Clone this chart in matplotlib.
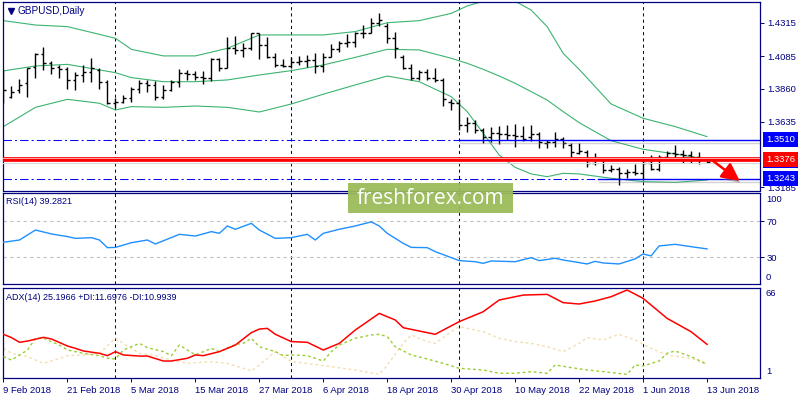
import matplotlib
matplotlib.use('Agg')
import matplotlib.pyplot as plt
import matplotlib.patheffects as pe
from matplotlib.patches import Rectangle
from matplotlib.lines import Line2D
import matplotlib.transforms as mtransforms

plt.rcParams['font.family'] = ['Liberation Sans', 'DejaVu Sans']

# ---------------- data ----------------
symbol_title = "GBPUSD,Daily"
rsi_title = "RSI(14) 39.2821"
adx_title = "ADX(14) 25.1966 +DI:11.6976 -DI:10.9939"
watermark = "freshforex.com"

date_labels = ["9 Feb 2018", "21 Feb 2018", "5 Mar 2018", "15 Mar 2018", "27 Mar 2018",
               "6 Apr 2018", "18 Apr 2018", "30 Apr 2018", "10 May 2018", "22 May 2018",
               "1 Jun 2018", "13 Jun 2018"]
date_label_bars = [0, 8, 16, 24, 32, 40, 48, 56, 64, 72, 80, 88]
month_start_bars = [14, 36, 57, 80]

opens = [1.3807, 1.3807, 1.3853, 1.3899, 1.4013, 1.4100, 1.4036, 1.4013, 1.3997, 1.3922,
         1.3956, 1.3979, 1.3991, 1.3910, 1.3762, 1.3773, 1.3796, 1.3858, 1.3899, 1.3888,
         1.3807, 1.3853, 1.3910, 1.3972, 1.3963, 1.3945, 1.3933, 1.4064, 1.4002, 1.4139,
         1.4128, 1.4139, 1.4242, 1.4162, 1.4082, 1.4025, 1.4018, 1.4048, 1.4055, 1.4059,
         1.4018, 1.4082, 1.4132, 1.4174, 1.4185, 1.4242, 1.4242, 1.4315, 1.4293, 1.4208,
         1.4077, 1.4002, 1.3933, 1.3979, 1.3933, 1.3922, 1.3773, 1.3762, 1.3613, 1.3624,
         1.3579, 1.3533, 1.3556, 1.3551, 1.3544, 1.3537, 1.3533, 1.3551, 1.3487, 1.3499,
         1.3515, 1.3476, 1.3423, 1.3430, 1.3350, 1.3377, 1.3304, 1.3309, 1.3281, 1.3293,
         1.3286, 1.3350, 1.3309, 1.3396, 1.3418, 1.3414, 1.3407, 1.3396, 1.3377]
highs = [1.3991, 1.3881, 1.3926, 1.4002, 1.4109, 1.4146, 1.4052, 1.4025, 1.4013, 1.3979,
         1.4025, 1.4071, 1.4002, 1.3922, 1.3796, 1.3819, 1.3876, 1.3922, 1.3922, 1.3917,
         1.3888, 1.3922, 1.3995, 1.3991, 1.3986, 1.3986, 1.4071, 1.4071, 1.4219, 1.4224,
         1.4178, 1.4247, 1.4247, 1.4219, 1.4105, 1.4064, 1.4077, 1.4087, 1.4093, 1.4109,
         1.4109, 1.4169, 1.4192, 1.4238, 1.4254, 1.4299, 1.4345, 1.4379, 1.4315, 1.4249,
         1.4093, 1.4032, 1.3991, 1.3995, 1.4002, 1.3933, 1.3789, 1.3789, 1.3670, 1.3647,
         1.3590, 1.3602, 1.3606, 1.3613, 1.3620, 1.3606, 1.3613, 1.3567, 1.3510, 1.3567,
         1.3533, 1.3487, 1.3492, 1.3441, 1.3418, 1.3377, 1.3338, 1.3327, 1.3309, 1.3345,
         1.3396, 1.3407, 1.3407, 1.3437, 1.3476, 1.3441, 1.3437, 1.3430, 1.3377]
lows = [1.3762, 1.3796, 1.3830, 1.3803, 1.3933, 1.3991, 1.3963, 1.3933, 1.3858, 1.3853,
        1.3910, 1.3910, 1.3858, 1.3757, 1.3727, 1.3762, 1.3773, 1.3830, 1.3842, 1.3784,
        1.3789, 1.3849, 1.3872, 1.3922, 1.3922, 1.3894, 1.3917, 1.3986, 1.4002, 1.4100,
        1.4082, 1.4128, 1.4064, 1.4071, 1.4009, 1.4009, 1.4002, 1.4025, 1.4013, 1.3968,
        1.3979, 1.4082, 1.4116, 1.4151, 1.4151, 1.4208, 1.4242, 1.4293, 1.4174, 1.4071,
        1.3995, 1.3922, 1.3922, 1.3922, 1.3910, 1.3743, 1.3716, 1.3579, 1.3567, 1.3560,
        1.3492, 1.3499, 1.3483, 1.3510, 1.3460, 1.3505, 1.3505, 1.3453, 1.3453, 1.3464,
        1.3453, 1.3396, 1.3414, 1.3327, 1.3338, 1.3281, 1.3293, 1.3201, 1.3247, 1.3270,
        1.3235, 1.3304, 1.3300, 1.3377, 1.3377, 1.3350, 1.3350, 1.3345, 1.3350]
closes = [1.3853, 1.3842, 1.3888, 1.4002, 1.4100, 1.4036, 1.4002, 1.3995, 1.3922, 1.3956,
          1.3979, 1.4002, 1.3910, 1.3762, 1.3773, 1.3796, 1.3858, 1.3899, 1.3888, 1.3807,
          1.3853, 1.3910, 1.3972, 1.3963, 1.3945, 1.3933, 1.4064, 1.4002, 1.4139, 1.4128,
          1.4139, 1.4242, 1.4162, 1.4082, 1.4025, 1.4018, 1.4048, 1.4055, 1.4059, 1.4018,
          1.4082, 1.4132, 1.4174, 1.4185, 1.4242, 1.4242, 1.4315, 1.4334, 1.4208, 1.4139,
          1.4002, 1.3933, 1.3979, 1.3933, 1.3922, 1.3789, 1.3762, 1.3613, 1.3624, 1.3579,
          1.3533, 1.3556, 1.3551, 1.3544, 1.3537, 1.3515, 1.3551, 1.3499, 1.3499, 1.3515,
          1.3487, 1.3430, 1.3437, 1.3350, 1.3377, 1.3304, 1.3309, 1.3281, 1.3293, 1.3286,
          1.3350, 1.3309, 1.3396, 1.3418, 1.3414, 1.3407, 1.3396, 1.3377, 1.3359]

bb_bars = [0, 4, 8, 12, 14, 16, 20, 24, 28, 32, 36, 40, 44, 48, 52, 56, 58, 60, 62, 64,
           66, 68, 70, 72, 76, 80, 84, 88]
bb_upper = [1.4329, 1.4299, 1.4288, 1.4235, 1.4208, 1.4132, 1.4087, 1.4087, 1.4139, 1.4231,
            1.4231, 1.4231, 1.4254, 1.4315, 1.4329, 1.4379, 1.4430, 1.4462, 1.4468, 1.4462,
            1.4402, 1.4288, 1.4105, 1.3995, 1.3757, 1.3659, 1.3602, 1.3533]
bb_middle = [1.3984, 1.4018, 1.4029, 1.3991, 1.3972, 1.3938, 1.3910, 1.3910, 1.3922, 1.3956,
             1.3986, 1.4025, 1.4077, 1.4132, 1.4128, 1.4071, 1.4036, 1.3995, 1.3949, 1.3899,
             1.3842, 1.3784, 1.3705, 1.3629, 1.3505, 1.3446, 1.3414, 1.3377]
bb_lower = [1.3602, 1.3734, 1.3789, 1.3762, 1.3716, 1.3739, 1.3734, 1.3743, 1.3734, 1.3702,
            1.3757, 1.3824, 1.3888, 1.3949, 1.3910, 1.3807, 1.3705, 1.3556, 1.3407, 1.3322,
            1.3277, 1.3258, 1.3281, 1.3277, 1.3247, 1.3224, 1.3219, 1.3235]

rsi_bars = [0, 2, 4, 6, 8, 9, 11, 12, 13, 14, 16, 18, 19, 22, 24, 26, 27, 28, 29, 31, 32, 34,
            36, 38, 39, 40, 42, 44, 46, 47, 48, 50, 51, 53, 54, 57, 59, 60, 61, 64, 66, 67,
            69, 70, 73, 74, 75, 77, 79, 80, 81, 82, 84, 86, 88]
rsi_values = [46.7, 49.2, 60.3, 55.9, 53.0, 51.0, 51.8, 49.2, 40.7, 41.0, 46.2, 49.2, 44.8,
              55.5, 53.6, 58.5, 56.6, 64.8, 61.1, 67.7, 60.3, 51.0, 51.8, 55.5, 49.2, 56.6,
              61.1, 64.8, 69.3, 64.8, 56.6, 45.5, 41.0, 40.7, 36.3, 26.3, 25.1, 23.3, 25.9,
              25.1, 29.6, 26.3, 28.9, 27.0, 22.6, 25.5, 23.7, 22.6, 28.2, 33.7, 31.5, 42.6,
              44.4, 41.8, 39.3]
rsi_levels = [70, 30]

adx_bars = [0, 1, 2, 3, 5, 6, 8, 9, 10, 12, 13, 14, 15, 17, 18, 20, 21, 23, 24, 25, 27, 29,
            31, 32, 33, 34, 36, 38, 40, 42, 44, 47, 49, 50, 52, 54, 57, 60, 62, 65, 68, 70,
            72, 74, 76, 78, 80, 83, 86, 88]
adx_values = [33.1, 30.7, 27.3, 28.2, 30.9, 29.7, 24.6, 22.9, 21.0, 19.3, 17.6, 20.5, 18.1,
              17.3, 17.3, 13.7, 13.7, 15.7, 18.1, 17.6, 20.5, 25.3, 34.3, 36.9, 37.4, 33.1,
              27.8, 27.3, 21.7, 26.5, 36.2, 48.3, 43.5, 37.9, 35.5, 33.1, 42.3, 49.5, 58.0,
              61.6, 62.1, 56.1, 55.1, 57.3, 60.4, 65.3, 59.2, 44.7, 35.0, 25.8]
pdi_bars = [0, 1, 3, 4, 5, 7, 8, 10, 12, 13, 14, 15, 16, 17, 18, 20, 21, 22, 23, 24, 26, 27,
            29, 30, 31, 32, 34, 35, 36, 38, 40, 41, 42, 44, 46, 47, 48, 49, 51, 53, 55, 57,
            60, 62, 64, 66, 68, 69, 71, 73, 75, 78, 79, 80, 82, 83, 84, 86, 88]
pdi_values = [16.9, 14.4, 21.7, 30.2, 30.2, 25.3, 21.7, 19.3, 17.6, 15.7, 15.2, 21.7, 24.1,
              26.5, 23.4, 20.5, 17.6, 25.3, 21.7, 18.1, 22.9, 20.5, 25.8, 26.5, 30.2, 24.1,
              20.5, 17.6, 18.1, 17.6, 13.7, 20.5, 25.3, 30.2, 32.6, 33.1, 31.4, 24.1, 18.1,
              15.2, 12.0, 8.4, 7.2, 4.8, 4.8, 6.0, 4.8, 10.8, 8.9, 7.2, 6.0, 4.0, 10.8, 10.1,
              13.7, 19.3, 21.0, 16.9, 11.3]
mdi_bars = [0, 1, 3, 5, 6, 8, 10, 12, 14, 15, 17, 19, 21, 23, 26, 28, 30, 31, 32, 34, 36, 38,
            41, 44, 47, 48, 50, 51, 53, 54, 56, 57, 60, 62, 64, 66, 68, 70, 72, 73, 75, 77,
            79, 81, 83, 86, 88]
mdi_values = [22.9, 19.3, 16.9, 12.0, 13.7, 17.6, 18.1, 19.3, 30.2, 26.5, 19.3, 17.6, 14.4,
              12.0, 13.2, 12.0, 8.4, 6.5, 10.8, 20.5, 13.2, 12.0, 9.6, 7.2, 4.0, 10.8, 26.5,
              32.6, 27.8, 26.5, 35.0, 38.7, 35.0, 30.2, 27.8, 26.5, 24.1, 20.5, 26.5, 30.7,
              29.0, 33.1, 29.0, 22.9, 18.1, 15.7, 11.3]

price_ticks = [1.4315, 1.4085, 1.3860, 1.3635, 1.3185]
level_upper = 1.3510
level_red = 1.3376
level_lower = 1.3243
current_price = 1.3359
arrow_start = (88.75, 1.3366)
arrow_end = (92.1, 1.3228)

# ---------------- style ----------------
NAVY = '#000080'
BLUE = '#0000ff'
RED = '#ff0000'
GREEN = '#3cb371'
FS = 6.8
XMIN, XMAX = -0.125, 94.625

fig = plt.figure(figsize=(8, 4), dpi=100)
fig.patch.set_facecolor('white')
L = 2.5 / 800
W = (760 - 2.5) / 800
ax1 = fig.add_axes([L, 1 - 190.5 / 400, W, (190.5 - 2.3) / 400])
ax2 = fig.add_axes([L, 1 - 284.3 / 400, W, (284.3 - 193.0) / 400])
ax3 = fig.add_axes([L, 1 - 378.3 / 400, W, (378.3 - 287.7) / 400])

for ax in (ax1, ax2, ax3):
    ax.set_xlim(XMIN, XMAX)
    for s in ax.spines.values():
        s.set_color(NAVY)
        s.set_linewidth(0.9)
    ax.yaxis.tick_right()
    ax.tick_params(axis='y', direction='out', length=3, width=0.7, pad=2,
                   colors=NAVY, labelsize=FS)
    for b in month_start_bars:
        ax.axvline(b, color=NAVY, lw=0.75, ls=(0, (3, 3)), zorder=1)

# ---------- main panel ----------
ax1.set_ylim(1.31631, 1.4455)
ax1.set_xticks([])
ax1.set_yticks(price_ticks)
ax1.set_yticklabels([f"{v:.4f}" for v in price_ticks])

ax1.plot(bb_bars, bb_upper, color=GREEN, lw=0.8, zorder=2)
ax1.plot(bb_bars, bb_middle, color=GREEN, lw=0.8, zorder=2)
ax1.plot(bb_bars, bb_lower, color=GREEN, lw=0.8, zorder=2)

idx = list(range(len(opens)))
tick_w = 0.36
ax1.vlines(idx, lows, highs, color='black', lw=1.0, zorder=3)
ax1.hlines(opens, [i - tick_w for i in idx], idx, color='black', lw=1.0, zorder=3)
ax1.hlines(closes, idx, [i + tick_w for i in idx], color='black', lw=1.0, zorder=3)

shadow = [pe.SimpleLineShadow(offset=(0.5, -2.5), shadow_color='#808080', alpha=0.35),
          pe.Normal()]
dashdot = (0, (8, 3, 2, 3))
# upper blue level
ax1.plot([XMIN, 57], [level_upper, level_upper], color=BLUE, lw=0.75, ls=dashdot, zorder=4)
ax1.plot([57, XMAX], [level_upper, level_upper], color=BLUE, lw=1.0, zorder=4,
         path_effects=shadow)
# lower blue level
ax1.plot([XMIN, 74.4], [level_lower, level_lower], color=BLUE, lw=0.75, ls=dashdot, zorder=4)
ax1.plot([74.4, XMAX], [level_lower, level_lower], color=BLUE, lw=1.0, zorder=4,
         path_effects=shadow)
# red band
ax1.axhline(level_red, color=RED, lw=3.4, zorder=4)
tr_up = mtransforms.offset_copy(ax1.transData, fig=fig, y=1.3, units='dots')
ax1.plot([XMIN, XMAX], [level_red, level_red], color='#ffd0d0', lw=0.55, zorder=4,
         transform=tr_up)
tr_dn = mtransforms.offset_copy(ax1.transData, fig=fig, y=-4.0, units='dots')
ax1.plot([XMIN, XMAX], [level_red, level_red], color='#d8d8d8', lw=0.8, zorder=3,
         transform=tr_dn)

# red arrow
ax1.annotate('', xy=arrow_end, xytext=arrow_start, xycoords='data', textcoords='data',
             annotation_clip=False, zorder=6,
             arrowprops=dict(arrowstyle='-|>,head_length=0.9,head_width=0.45',
                             color=RED, lw=1.8, mutation_scale=12, shrinkA=0, shrinkB=0,
                             path_effects=[pe.SimplePatchShadow(offset=(2, -2.5),
                                                                shadow_rgbFace='#707070',
                                                                alpha=0.45),
                                           pe.Normal()]))


def level_box(ax, y, text, fc):
    ax.annotate(text, xy=(1, y), xycoords=('axes fraction', 'data'), xytext=(4.2, 0),
                textcoords='offset points', ha='left', va='center', fontsize=FS,
                color='white', annotation_clip=False, zorder=7,
                bbox=dict(boxstyle='square,pad=0.32', fc=fc, ec='none'))


# current-price marker, mostly hidden behind the red level box
cur_tr = mtransforms.blended_transform_factory(ax1.transAxes, ax1.transData)
ax1.add_patch(Rectangle((1.0045, current_price - 0.0042), 0.046, 0.0084,
                        transform=cur_tr, facecolor=BLUE, edgecolor='none',
                        clip_on=False, zorder=6))
level_box(ax1, level_upper, f"{level_upper:.4f}", BLUE)
level_box(ax1, level_red, f"{level_red:.4f}", RED)
level_box(ax1, level_lower, f"{level_lower:.4f}", BLUE)

# ---------- RSI panel ----------
ax2.set_ylim(0, 101.4)
ax2.set_xticks([])
ax2.set_yticks(rsi_levels)
ax2.set_yticklabels([str(v) for v in rsi_levels])
for lv in rsi_levels:
    ax2.axhline(lv, color='#c0c0c0', lw=0.8, ls=(0, (3, 3)), zorder=1)
ax2.plot(rsi_bars, rsi_values, color='#1e90ff', lw=1.0, zorder=3)
ax2.annotate('100', xy=(1, 101.4), xycoords=('axes fraction', 'data'), xytext=(4.3, -1.2),
             textcoords='offset points', ha='left', va='top', fontsize=FS, color=NAVY,
             annotation_clip=False)
ax2.annotate('0', xy=(1, 0), xycoords=('axes fraction', 'data'), xytext=(4.3, 1.3),
             textcoords='offset points', ha='left', va='bottom', fontsize=FS, color=NAVY,
             annotation_clip=False)

# ---------- ADX panel ----------
ax3.set_ylim(1.15, 66.95)
ax3.set_yticks([])
ax3.plot(mdi_bars, mdi_values, color='#f5deb3', lw=1.0, ls=(0, (2, 2)), zorder=2)
ax3.plot(pdi_bars, pdi_values, color='#9acd32', lw=1.0, ls=(0, (2, 2)), zorder=3)
ax3.plot(adx_bars, adx_values, color=RED, lw=1.1, zorder=4)
ax3.annotate('66', xy=(1, 66.95), xycoords=('axes fraction', 'data'), xytext=(4.3, -1.2),
             textcoords='offset points', ha='left', va='top', fontsize=FS, color=NAVY,
             annotation_clip=False)
ax3.annotate('1', xy=(1, 1.15), xycoords=('axes fraction', 'data'), xytext=(4.3, 1.3),
             textcoords='offset points', ha='left', va='bottom', fontsize=FS, color=NAVY,
             annotation_clip=False)
ax3.set_xticks(date_label_bars)
ax3.set_xticklabels(date_labels, ha='left', fontsize=FS, color=NAVY)
ax3.tick_params(axis='x', direction='out', length=3, width=0.7, pad=2.5, colors=NAVY)

# ---------- titles ----------
fig.add_artist(Line2D([10.5 / 800], [1 - 10.5 / 400], marker='v', markersize=4.2,
                      color=NAVY, transform=fig.transFigure))
fig.text(18 / 800, 1 - 10.5 / 400, symbol_title, fontsize=7.2, color=NAVY,
         ha='left', va='center')
fig.text(6.5 / 800, 1 - 202 / 400, rsi_title, fontsize=6.5, color=NAVY,
         ha='left', va='center')
fig.text(6.5 / 800, 1 - 297 / 400, adx_title, fontsize=6.5, color=NAVY,
         ha='left', va='center')

# ---------- watermark ----------
fig.add_artist(Rectangle((348 / 800, 1 - 213 / 400), 165 / 800, 30 / 400,
                         transform=fig.transFigure, facecolor='#9bbb59', edgecolor='none',
                         alpha=0.95, zorder=10))
fig.text(431 / 800, 1 - 198.5 / 400, watermark, fontsize=15, color='white',
         ha='center', va='center', zorder=11, family=['Open Sans', 'DejaVu Sans'])

fig.savefig('out.png', dpi=100, facecolor='white')
